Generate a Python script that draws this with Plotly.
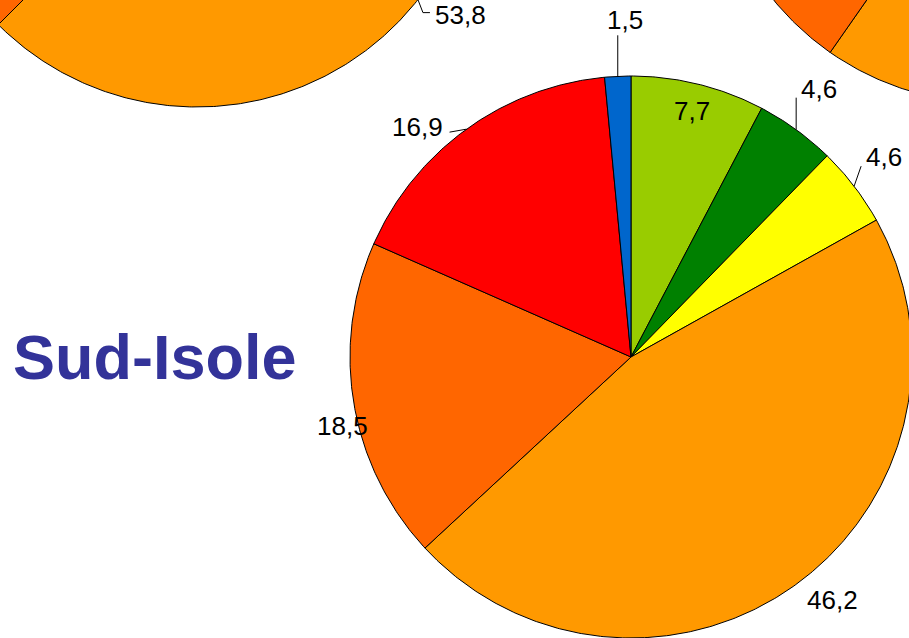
import numpy as np
import plotly.graph_objects as go

# Valori percentuali per classe (ordine orario a partire da ore 12)
classi = ["Classe 1", "Classe 2", "Classe 3", "Classe 4", "Classe 5", "Classe 6", "Classe 7"]
sud_isole = [7.7, 4.6, 4.6, 46.2, 18.5, 16.9, 1.5]
torta_sinistra = [3.1, 2.8, 2.8, 53.8, 21.0, 15.2, 1.3]
torta_destra = [5.5, 3.0, 3.2, 48.0, 22.0, 16.8, 1.5]
titolo = "Sud-Isole"

COLORI = ["#99CC00", "#008000", "#FFFF00", "#FF9900", "#FF6600", "#FF0000", "#0066CC"]
FONT = "Liberation Sans, Arial, sans-serif"

W, H = 909, 638
R = 281

# label layout: anchor radius factor, leader-line offsets, text offset, x anchor
LABELS_MAIN = {
    0: dict(rf=0.9, leader=None, text=(0, 0), xanchor="center"),
    1: dict(rf=1.0, leader=[(0, -32)], text=(3, -41), xanchor="left"),
    2: dict(rf=1.0, leader=[(7, -20)], text=(10, -29), xanchor="left"),
    3: dict(rf=1.0, leader=None, text=(36, 16), xanchor="center"),
    4: dict(rf=1.0, leader=None, text=(-11, 22), xanchor="center"),
    5: dict(rf=1.0, leader=[(-17, 3)], text=(-22, -2), xanchor="right"),
    6: dict(rf=1.0, leader=[(0, -41)], text=(7, -56), xanchor="center"),
}
LABELS_LEFT = {
    3: dict(rf=1.0, leader=[(5, 13), (12, 13)], text=(15, 15), xanchor="left"),
}

# (values, centre x, centre y, labels) -- pixel coordinates, y pointing down
PIES = [
    (torta_sinistra, 197, -174, LABELS_LEFT),
    (torta_destra, 991, -178, {}),
    (sud_isole, 631, 357, LABELS_MAIN),
]


def polar_point(cx, cy, r, ang):
    a = np.radians(ang)
    return cx + r * np.sin(a), cy - r * np.cos(a)


def wedge(cx, cy, r, a0, a1):
    t = np.linspace(a0, a1, max(int((a1 - a0) * 2) + 2, 3))
    xs, ys = polar_point(cx, cy, r, t)
    return [cx, *xs, cx], [cy, *ys, cy]


def fmt(v):
    return f"{v:.1f}".replace(".", ",")


fig = go.Figure()
annotations = []

for values, cx, cy, labels in PIES:
    total = sum(values)
    bounds = np.concatenate([[0], np.cumsum(values)]) / total * 360
    for i, v in enumerate(values):
        xs, ys = wedge(cx, cy, R, bounds[i], bounds[i + 1])
        fig.add_trace(go.Scatter(
            x=xs, y=ys, mode="lines", fill="toself",
            fillcolor=COLORI[i], line=dict(color="black", width=1),
            name=classi[i], text=fmt(v), hoverinfo="name+text",
        ))
        if i not in labels:
            continue
        lab = labels[i]
        mid = (bounds[i] + bounds[i + 1]) / 2
        px_, py_ = polar_point(cx, cy, R * lab["rf"], mid)
        if lab["leader"]:
            lx = [px_] + [px_ + dx for dx, dy in lab["leader"]]
            ly = [py_] + [py_ + dy for dx, dy in lab["leader"]]
            fig.add_trace(go.Scatter(
                x=lx, y=ly, mode="lines", line=dict(color="black", width=1),
                hoverinfo="skip",
            ))
        annotations.append(dict(
            x=px_ + lab["text"][0], y=py_ + lab["text"][1], xref="x", yref="y",
            text=fmt(v), showarrow=False, xanchor=lab["xanchor"], yanchor="middle",
            font=dict(family=FONT, size=26, color="black"),
        ))

annotations.append(dict(
    x=11, y=357, xref="x", yref="y", text=f"<b>{titolo}</b>", showarrow=False,
    xanchor="left", yanchor="middle",
    font=dict(family=FONT, size=63, color="#333399"),
))

fig.update_layout(
    width=W, height=H,
    margin=dict(l=0, r=0, t=0, b=0),
    paper_bgcolor="white", plot_bgcolor="white",
    showlegend=False,
    annotations=annotations,
)
fig.update_xaxes(range=[0, W], visible=False, fixedrange=True)
fig.update_yaxes(range=[H, 0], visible=False, fixedrange=True)

# drop the browser's default body margin so the figure sits at the window corner
fig.write_html(
    "out.html",
    config={"displayModeBar": False},
    post_script="document.body.style.margin = '0';",
)
